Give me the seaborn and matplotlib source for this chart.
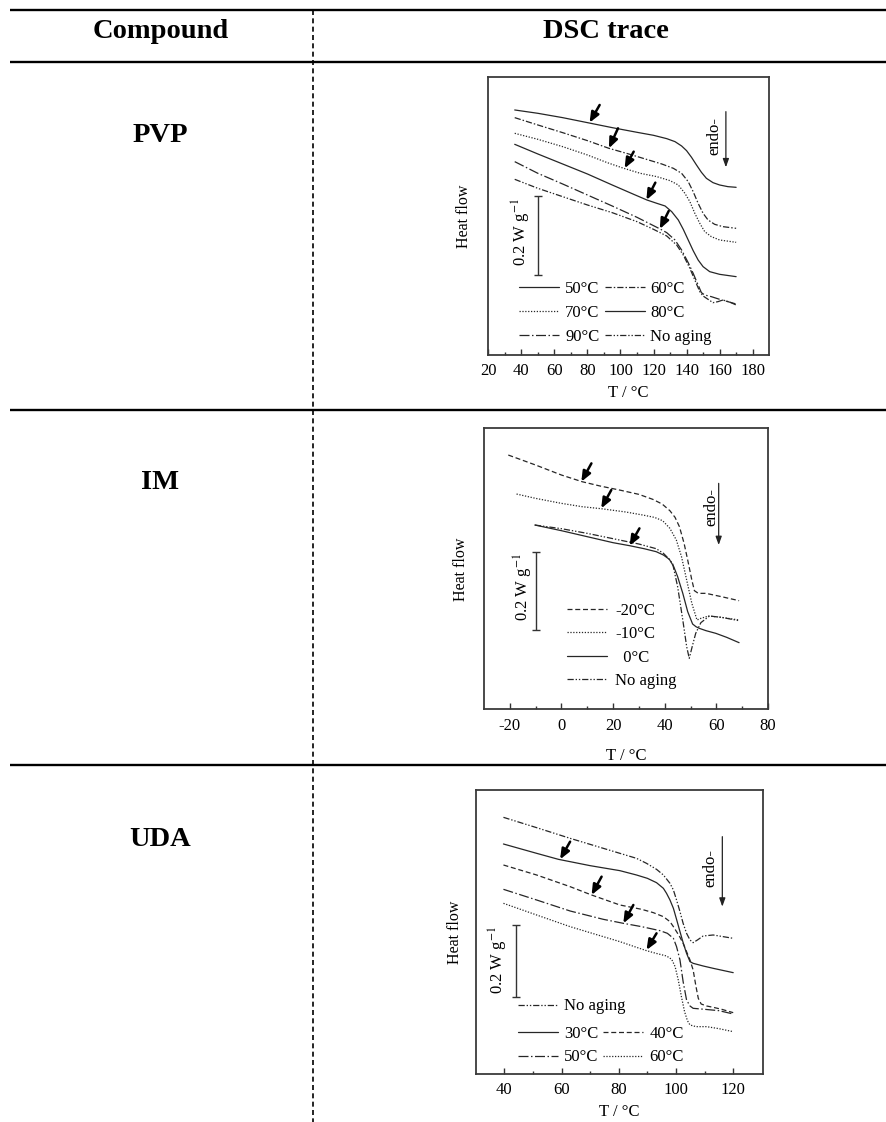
import pandas as pd
import matplotlib
matplotlib.use('Agg')
from matplotlib import pyplot as plt
from matplotlib.lines import Line2D
import seaborn as sns

sns.set_style('white')
plt.rcParams['font.family'] = ['Liberation Serif', 'DejaVu Serif']
plt.rcParams['mathtext.fontset'] = 'stix'
plt.rcParams['axes.unicode_minus'] = False
plt.rcParams['text.color'] = 'k'
plt.rcParams['axes.labelcolor'] = 'k'
plt.rcParams['xtick.color'] = 'k'

# --- PVP ---
PVP_T50 = [36, 50, 65, 80, 95, 110, 120, 128, 133, 137, 140, 143, 146, 149, 152, 156, 160, 165, 170]
PVP_HF50 = [-90, -100, -113, -128, -143, -157, -166, -176, -185, -198, -212, -232, -255, -277, -295, -308, -315, -320, -322]
PVP_T60 = [36, 50, 65, 80, 93, 105, 115, 125, 132, 137, 141, 144, 147, 150, 153, 157, 162, 170]
PVP_HF60 = [-113, -135, -158, -182, -205, -222, -237, -252, -265, -280, -305, -335, -370, -400, -420, -433, -440, -445]
PVP_T70 = [36, 50, 65, 80, 92, 102, 112, 122, 130, 135, 139, 142, 145, 148, 151, 155, 160, 170]
PVP_HF70 = [-160, -178, -200, -225, -248, -265, -280, -290, -302, -315, -340, -365, -400, -430, -455, -470, -480, -487]
PVP_T80 = [36, 50, 65, 80, 95, 108, 116, 122, 127, 131, 135, 138, 141, 144, 147, 150, 154, 160, 170]
PVP_HF80 = [-193, -222, -252, -282, -315, -343, -360, -370, -378, -395, -420, -448, -480, -512, -540, -560, -575, -583, -590]
PVP_T90 = [36, 50, 65, 80, 95, 110, 118, 124, 128, 133, 137, 141, 144, 147, 149, 151, 155, 160, 170]
PVP_HF90 = [-245, -280, -312, -345, -378, -412, -432, -447, -458, -480, -510, -548, -580, -615, -638, -645, -650, -658, -672]
PVP_TNA = [36, 50, 65, 80, 95, 110, 120, 128, 134, 138, 142, 145, 148, 150, 153, 156, 159, 162, 166, 170]
PVP_HFNA = [-298, -325, -350, -375, -398, -425, -448, -468, -495, -525, -565, -600, -635, -648, -658, -668, -665, -660, -666, -675]
PVP_ARROW_TIP = [(81.3, -128), (93, -205), (102.5, -265), (115.7, -360), (123.8, -447)]
PVP_ARROW_TAIL = [(87.4, -75), (98.5, -145), (108, -215), (121.1, -308), (129.2, -393)]

# --- IM ---
IM_TM20 = [-20.6, -10, 0, 8, 15, 22.5, 30, 35.4, 39, 42, 44, 45.7, 47.5, 48.9, 50.5, 51.5, 53, 56, 62, 68.8]
IM_HFM20 = [-165, -195, -225, -245, -258, -270, -283, -298, -312, -332, -352, -380, -430, -480, -540, -572, -580, -580, -590, -602]
IM_TM10 = [-17.4, -10, 0, 8, 15.4, 25, 31.5, 36, 39.2, 42, 44.5, 46.5, 48.5, 50.5, 52.5, 54, 57, 62, 68.8]
IM_HFM10 = [-282, -295, -310, -320, -326, -336, -345, -352, -362, -385, -420, -470, -540, -610, -660, -655, -648, -652, -660]
IM_T0 = [-10.3, 0, 10, 20, 26.4, 32, 36.7, 39.5, 41.8, 43.5, 45, 47, 48.9, 50.8, 52.1, 53.4, 56, 59.8, 64, 68.8]
IM_HF0 = [-375, -392, -410, -428, -437, -446, -455, -465, -478, -500, -530, -580, -635, -672, -680, -685, -692, -700, -712, -728]
IM_TNA = [-10.3, 0, 10, 20, 30, 36.7, 39.5, 41.8, 43.1, 45, 47, 48.5, 49.5, 50.8, 52, 54, 57.3, 62, 68.8]
IM_HFNA = [-375, -386, -400, -416, -432, -446, -460, -478, -492, -560, -660, -740, -775, -735, -700, -668, -648, -652, -662]
IM_ARROW_TIP = [(7.7, -245), (15.4, -325), (26.4, -437)]
IM_ARROW_TAIL = [(11.6, -190), (19.3, -270), (30.2, -385)]

# --- UDA ---
UDA_TNA = [39.7, 51.3, 63, 74.6, 80.4, 86.2, 89.7, 93.2, 95.6, 97.9, 99.1, 100.2, 101.4, 102.5, 103.7, 104.9, 106, 107.5, 109.5, 113, 120]
UDA_HFNA = [-292, -323, -355, -385, -400, -415, -430, -448, -465, -490, -510, -540, -575, -610, -640, -660, -668, -660, -648, -645, -655]
UDA_T30 = [39.7, 51.3, 58.9, 63, 70, 80.4, 86.2, 90, 93.2, 95.6, 96.7, 97.9, 99.1, 100.2, 101.4, 102.5, 103.7, 104.9, 106, 109.5, 113, 120]
UDA_HF30 = [-372, -400, -418, -425, -437, -452, -465, -475, -488, -505, -520, -540, -565, -598, -635, -668, -700, -725, -730, -738, -745, -758]
UDA_T40 = [39.7, 51.3, 63, 70.5, 80.4, 88, 92.1, 95.6, 97.9, 99.1, 100.2, 101.4, 102.5, 103.7, 104.9, 106, 107, 107.8, 108.8, 110.7, 113, 116, 120]
UDA_HF40 = [-435, -465, -500, -525, -555, -568, -578, -590, -605, -620, -635, -652, -670, -695, -720, -750, -800, -835, -852, -858, -862, -868, -878]
UDA_T50 = [39.7, 51.3, 63, 74.6, 81.6, 88, 94.4, 97, 99.1, 100.2, 101.4, 102.5, 103.7, 104.9, 106, 110, 115, 120]
UDA_HF50 = [-508, -540, -573, -598, -610, -620, -632, -640, -655, -680, -720, -785, -840, -858, -865, -868, -872, -882]
UDA_T60 = [39.7, 51.3, 63, 74.6, 80.4, 86.2, 89.7, 93, 96.7, 98.5, 99.7, 100.8, 101.9, 103, 104, 104.9, 107, 110.7, 115, 120]
UDA_HF60 = [-550, -585, -620, -650, -665, -682, -692, -700, -708, -718, -740, -780, -830, -875, -902, -915, -920, -920, -926, -935]
UDA_ARROW_TIP = [(59.5, -418), (70.5, -525), (81.6, -610), (89.7, -690)]
UDA_ARROW_TAIL = [(63, -365), (74, -470), (85.1, -555), (93.2, -640)]

HEADERS = ['Compound', 'DSC trace']
COMPOUNDS = ['PVP', 'IM', 'UDA']

SOLID = ''
DASH = (4, 2.2)
DOT = (1, 1.3)
DASHDOT = (5, 1.6, 1.2, 1.6)
LONGDASHDOT = (8, 2, 1.2, 2)
DASHDOTDOT = (5, 1.5, 1.1, 1.5, 1.1, 1.5)

LINE = '#262626'
FS = 12


def _handle(d):
    return Line2D([], [], color=LINE, lw=0.9, ls='-' if d == SOLID else (0, d))


def dsc_panel(fig, rect, curves, styles, xlim, ylim, major, minor, tips, tails,
              bar, bar_text, endo_text, endo_arrow, ylabelpad, xlabelpad):
    ax = fig.add_axes(rect)
    df = pd.concat([pd.DataFrame({'T': t, 'hf': hf, 'curve': name})
                    for name, (t, hf) in curves.items()], ignore_index=True)
    sns.lineplot(data=df, x='T', y='hf', style='curve', dashes=styles, color=LINE,
                 linewidth=0.9, estimator=None, legend=False, ax=ax)
    ax.set_xlim(xlim)
    ax.set_ylim(ylim)
    ax.set_xticks(major)
    ax.set_xticks(minor, minor=True)
    ax.set_yticks([])
    ax.tick_params(axis='x', which='both', direction='in', bottom=True, top=False,
                   labelsize=FS, pad=6, color='#333')
    ax.tick_params(axis='x', which='major', length=4.5, width=1)
    ax.tick_params(axis='x', which='minor', length=2.5, width=1)
    for s in ax.spines.values():
        s.set_color('#3a3a3a')
        s.set_linewidth(1.3)
    ax.set_xlabel('T / °C', fontsize=FS, labelpad=xlabelpad)
    ax.set_ylabel('Heat flow', fontsize=11.5, labelpad=ylabelpad)

    for tip, tail in zip(tips, tails):
        ax.annotate('', xy=tip, xytext=tail,
                    arrowprops=dict(arrowstyle='-|>,head_length=0.6,head_width=0.25',
                                    color='k', lw=1.8, shrinkA=0, shrinkB=0))
    # scale bar 0.2 W/g
    bx, btop, bbot = bar
    ax.errorbar([bx], [(btop + bbot) / 2], yerr=[(btop - bbot) / 2], fmt='none',
                ecolor='#333', elinewidth=1, capsize=3, capthick=1)
    ax.text(bar_text[0], bar_text[1], '0.2 W g$^{-1}$', rotation=90, fontsize=FS,
            ha='center', va='center')
    ax.text(endo_text[0], endo_text[1], 'endo-', rotation=90, fontsize=FS,
            ha='center', va='center')
    ex, etop, ebot = endo_arrow
    ax.annotate('', xy=(ex, ebot), xytext=(ex, etop),
                arrowprops=dict(arrowstyle='-|>,head_length=0.5,head_width=0.18',
                                color='#222', lw=0.9, shrinkA=0, shrinkB=0))
    return ax


fig = plt.figure(figsize=(8.86, 11.22), dpi=100)

# table frame
bg = fig.add_axes([0, 0, 1, 1])
bg.set_xlim(0, 886)
bg.set_ylim(1122, 0)
bg.axis('off')
bg.hlines([10, 61.7, 410, 765], 10, 886, color='k', lw=1.7)
bg.vlines(312.7, 10, 1122, color='k', lw=1.2, ls=(0, (3, 2)))
bg.text(161, 37.5, HEADERS[0], fontsize=20.5, fontweight='bold', ha='center', va='baseline')
bg.text(606, 37.5, HEADERS[1], fontsize=20.5, fontweight='bold', ha='center', va='baseline')
for name, yb in zip(COMPOUNDS, [141.7, 489, 845.7]):
    bg.text(160.5, yb, name, fontsize=20.5, fontweight='bold', ha='center', va='baseline')

leg_kw = dict(frameon=False, fontsize=FS, borderpad=0, borderaxespad=0, handlelength=2.4,
              handletextpad=0.35, labelspacing=0.47, columnspacing=0.3, loc='lower left')

# PVP
pvp_styles = {'50°C': SOLID, '60°C': DASHDOT, '70°C': DOT, '80°C': SOLID,
              '90°C': LONGDASHDOT, 'No aging': DASHDOTDOT}
ax1 = dsc_panel(fig, [0.5511, 0.6839, 0.3163, 0.2475],
                {'50°C': (PVP_T50, PVP_HF50), '60°C': (PVP_T60, PVP_HF60),
                 '70°C': (PVP_T70, PVP_HF70), '80°C': (PVP_T80, PVP_HF80),
                 '90°C': (PVP_T90, PVP_HF90), 'No aging': (PVP_TNA, PVP_HFNA)},
                pvp_styles, (20, 189.6), (-824, 9), range(20, 181, 20), range(30, 180, 20),
                PVP_ARROW_TIP, PVP_ARROW_TAIL, (49.9, -348, -585), (39.8, -455),
                (157.1, -168), (163.8, -95, -262), 11.5, 4)
order = ['50°C', '70°C', '90°C', '60°C', '80°C', 'No aging']
ax1.legend([_handle(pvp_styles[k]) for k in order], order, ncol=2,
           bbox_to_anchor=(0.111, 0.035), **leg_kw)

# IM
im_styles = {'-20°C': DASH, '-10°C': DOT, '0°C': SOLID, 'No aging': DASHDOTDOT}
ax2 = dsc_panel(fig, [0.5463, 0.3678, 0.3205, 0.2504],
                {'-20°C': (IM_TM20, IM_HFM20), '-10°C': (IM_TM10, IM_HFM10),
                 '0°C': (IM_T0, IM_HF0), 'No aging': (IM_TNA, IM_HFNA)},
                im_styles, (-30, 80), (-928, -85), range(-20, 81, 20), range(-10, 80, 20),
                IM_ARROW_TIP, IM_ARROW_TAIL, (-10.0, -455, -690), (-14.8, -562),
                (57.9, -322), (60.9, -250, -435), 10.8, 10)
im_labels = ['-20°C', '-10°C', '  0°C', 'No aging']
ax2.legend([_handle(im_styles[k]) for k in im_styles], im_labels, ncol=1,
           bbox_to_anchor=(0.291, 0.072), **dict(leg_kw, handletextpad=0.5, labelspacing=0.45))

# UDA
uda_styles = {'No aging': DASHDOTDOT, '30°C': SOLID, '40°C': DASH, '50°C': LONGDASHDOT, '60°C': DOT}
ax3 = dsc_panel(fig, [0.5369, 0.0428, 0.3239, 0.2531],
                {'No aging': (UDA_TNA, UDA_HFNA), '30°C': (UDA_T30, UDA_HF30),
                 '40°C': (UDA_T40, UDA_HF40), '50°C': (UDA_T50, UDA_HF50),
                 '60°C': (UDA_T60, UDA_HF60)},
                uda_styles, (30, 130.3), (-1062, -210), range(40, 121, 20), range(50, 130, 20),
                UDA_ARROW_TIP, UDA_ARROW_TAIL, (44.1, -615, -830), (37.9, -720),
                (111.9, -445), (116.2, -350, -560), 9.4, 4)
first = ax3.legend([_handle(uda_styles['No aging'])], ['No aging'],
                   bbox_to_anchor=(0.148, 0.21), **leg_kw)
ax3.add_artist(first)
order = ['30°C', '50°C', '40°C', '60°C']
ax3.legend([_handle(uda_styles[k]) for k in order], order, ncol=2,
           bbox_to_anchor=(0.148, 0.03), **leg_kw)

fig.savefig('out.png', dpi=100)
